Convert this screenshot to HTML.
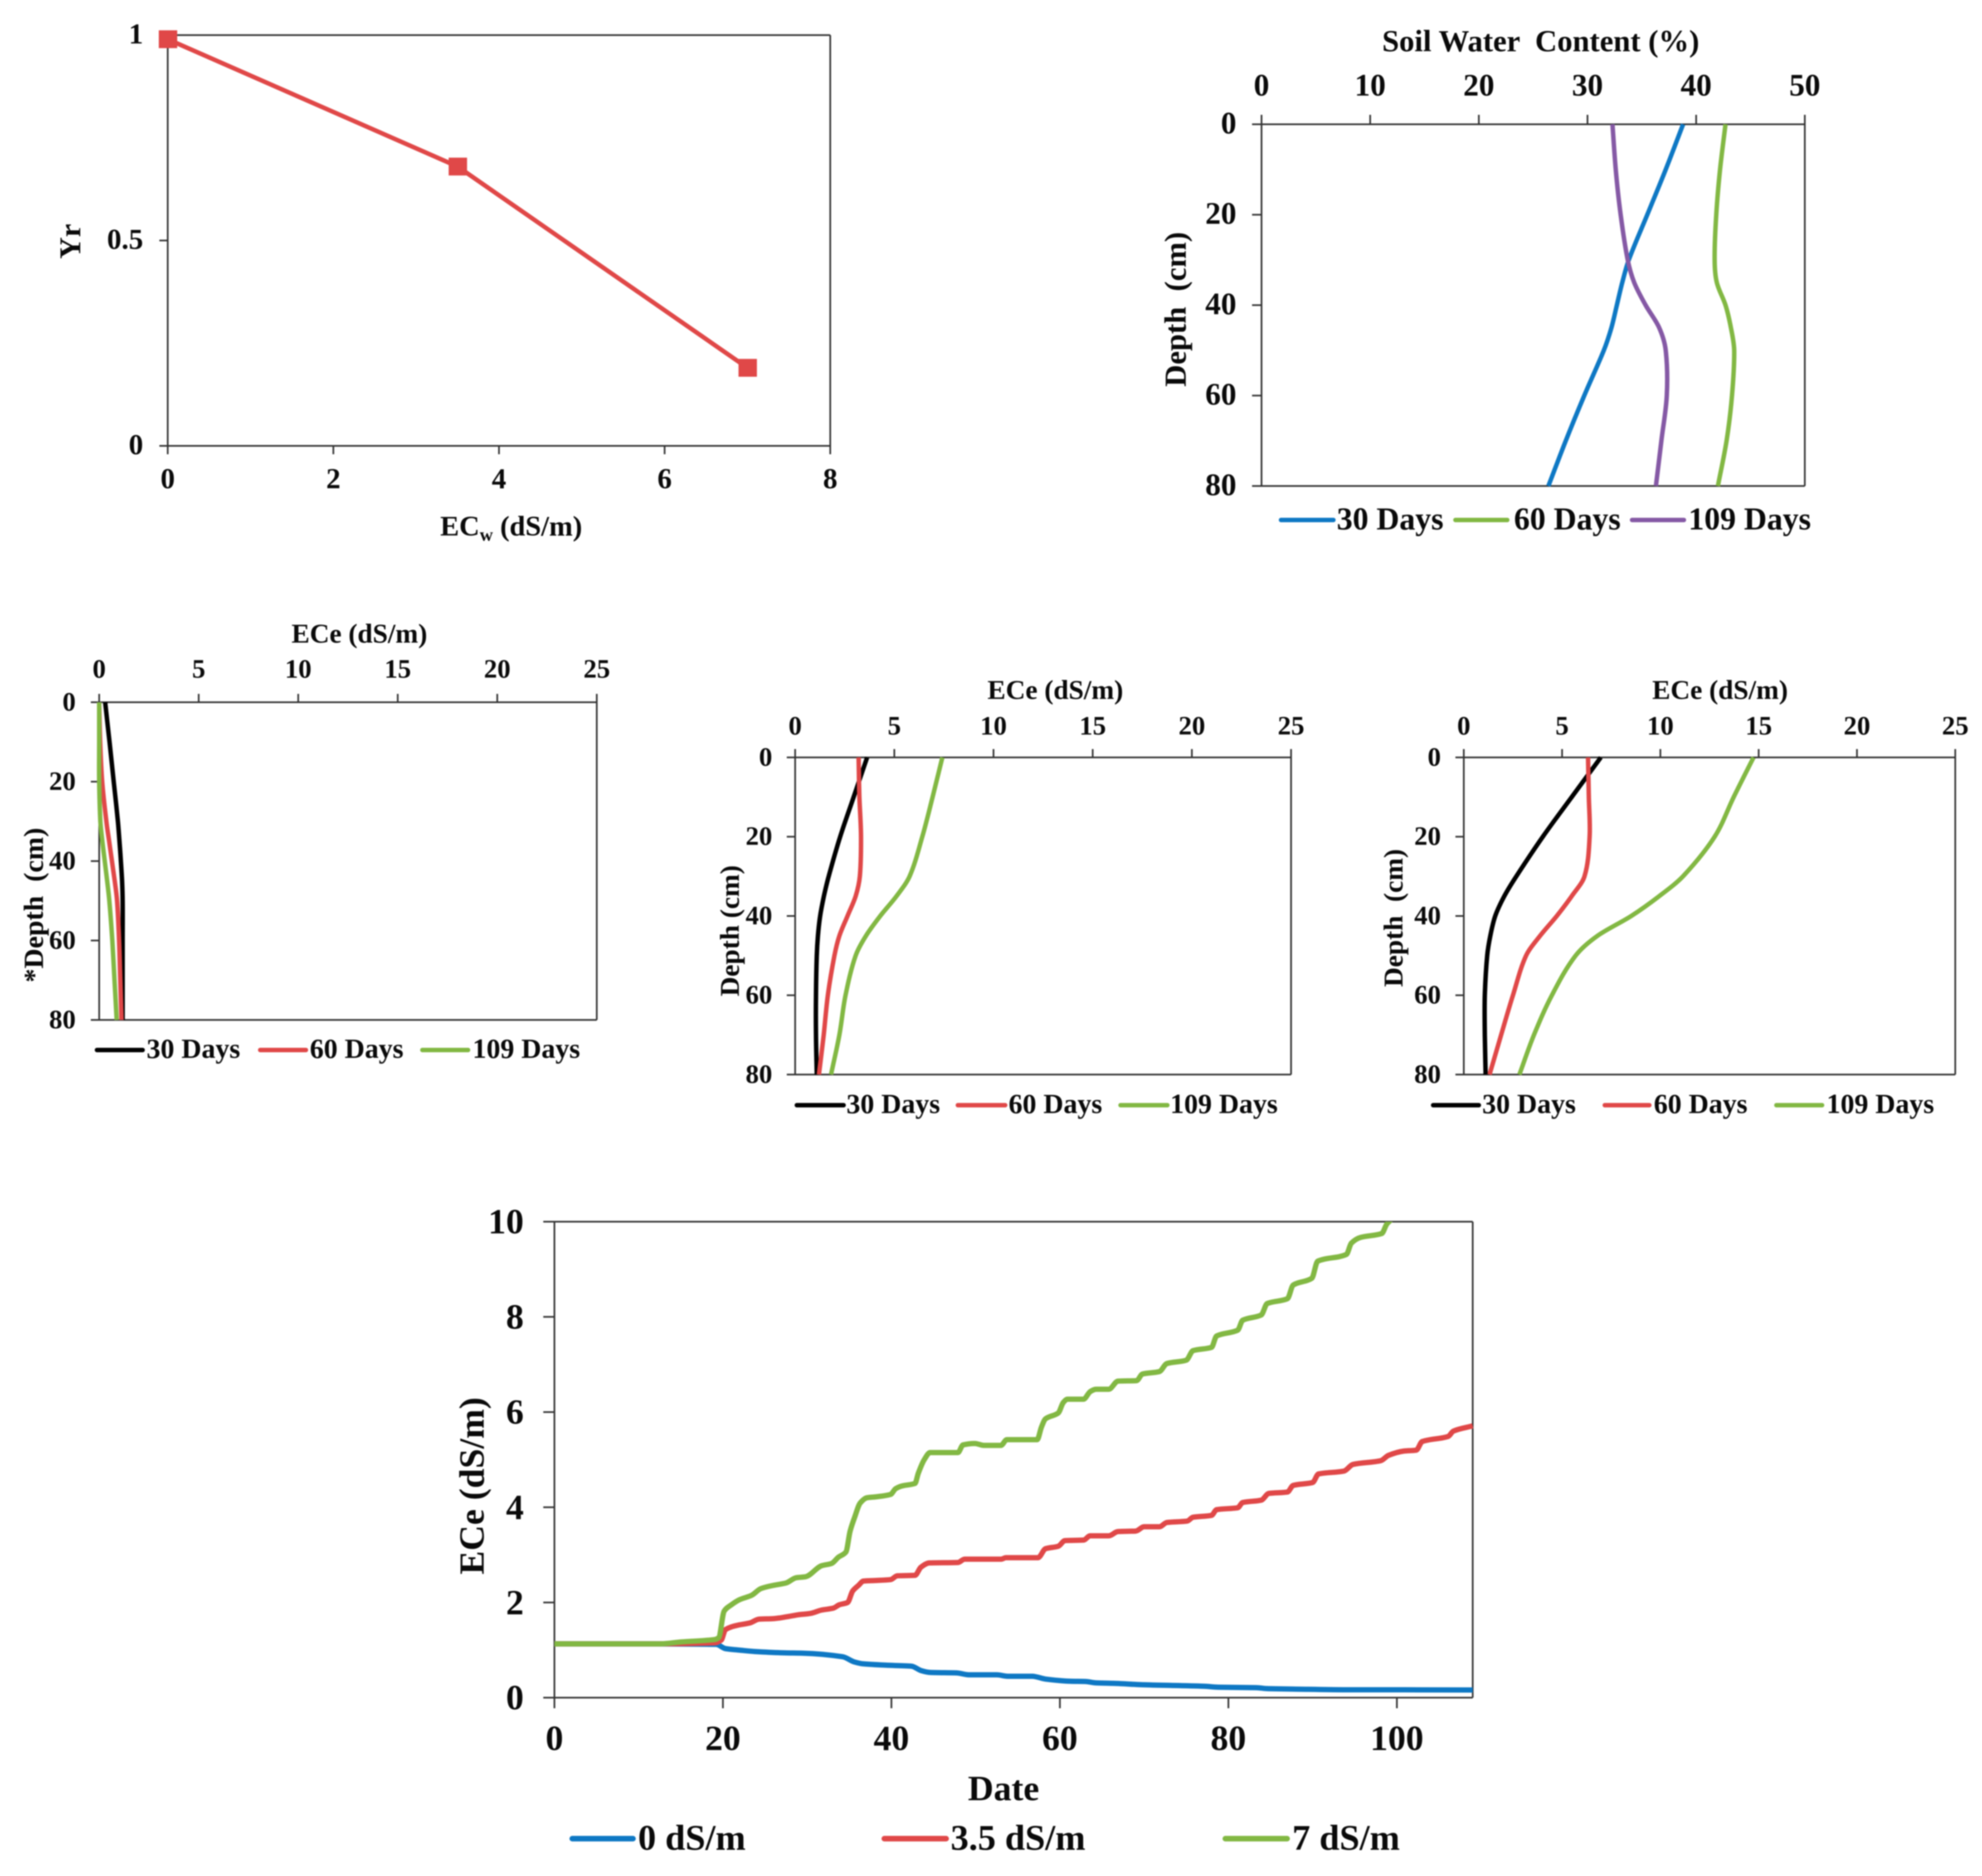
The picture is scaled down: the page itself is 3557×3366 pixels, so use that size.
<!DOCTYPE html>
<html lang="en">
<head>
<meta charset="utf-8">
<title>Yield response, soil water and salinity charts</title>
<style>
html,body{margin:0;padding:0;background:#fff;width:3557px;height:3366px;overflow:hidden}
svg{display:block;filter:blur(1.1px)}
text{font-family:"Liberation Serif",serif;font-weight:bold;fill:#0a0a0a;white-space:pre}
.t49{font-size:49px}.t50{font-size:50px}.t51{font-size:51px}.t54{font-size:54px}.t55{font-size:55px}.t57{font-size:57px}.t64{font-size:64px}.t65{font-size:65px}
.leg{stroke-width:8;stroke-linecap:round;fill:none}
</style>
</head>
<body>
<svg id="fig" xmlns="http://www.w3.org/2000/svg" width="3557" height="3366" viewBox="0 0 3557 3366">
  <rect width="3557" height="3366" fill="#fff"/>

  <g id="c1">
    <text class="t54" text-anchor="middle" transform="translate(127,433) rotate(-90)" y="17">Yr</text>
    <text class="t51" x="790" y="961">EC<tspan font-size="33" dy="9">w</tspan><tspan dy="-9"> (dS/m)</tspan></text>
  </g>

  <g id="c2">
    <text class="t55" text-anchor="middle" x="2765" y="92">Soil Water  Content (%)</text>
    <text class="t55" text-anchor="middle" transform="translate(2110,555) rotate(-90)" y="18">Depth  (cm)</text>
    <line class="leg" x1="2299" x2="2393" y1="933" y2="933" stroke="#0E78C4"/>
    <text class="t57" x="2399" y="950">30 Days</text>
    <line class="leg" x1="2612" x2="2705" y1="933" y2="933" stroke="#82B843"/>
    <text class="t57" x="2717" y="950">60 Days</text>
    <line class="leg" x1="2929" x2="3022" y1="933" y2="933" stroke="#8559A5"/>
    <text class="t57" x="3030" y="950">109 Days</text>
  </g>

  <g id="c3">
    <text class="t49" text-anchor="middle" x="645" y="1153">ECe (dS/m)</text>
    <text class="t50" text-anchor="middle" transform="translate(61,1624) rotate(-90)" y="16">*Depth  (cm)</text>
    <line class="leg" x1="174" x2="256" y1="1884" y2="1884" stroke="#000"/>
    <text class="t50" x="263" y="1898">30 Days</text>
    <line class="leg" x1="467" x2="549" y1="1884" y2="1884" stroke="#E04848"/>
    <text class="t50" x="556" y="1898">60 Days</text>
    <line class="leg" x1="758" x2="840" y1="1884" y2="1884" stroke="#82B843"/>
    <text class="t50" x="848" y="1898">109 Days</text>
  </g>

  <g id="c4">
    <text class="t49" text-anchor="middle" x="1894" y="1254">ECe (dS/m)</text>
    <text class="t49" text-anchor="middle" transform="translate(1310,1670) rotate(-90)" y="16">Depth (cm)</text>
    <line class="leg" x1="1430" x2="1514" y1="1983" y2="1983" stroke="#000"/>
    <text class="t50" x="1519" y="1997">30 Days</text>
    <line class="leg" x1="1719" x2="1804" y1="1983" y2="1983" stroke="#E04848"/>
    <text class="t50" x="1810" y="1997">60 Days</text>
    <line class="leg" x1="2011" x2="2095" y1="1983" y2="1983" stroke="#82B843"/>
    <text class="t50" x="2100" y="1997">109 Days</text>
  </g>

  <g id="c5">
    <text class="t49" text-anchor="middle" x="3087" y="1254">ECe (dS/m)</text>
    <text class="t49" text-anchor="middle" transform="translate(2501,1647) rotate(-90)" y="16">Depth  (cm)</text>
    <line class="leg" x1="2572" x2="2654" y1="1983" y2="1983" stroke="#000"/>
    <text class="t50" x="2660" y="1997">30 Days</text>
    <line class="leg" x1="2880" x2="2960" y1="1983" y2="1983" stroke="#E04848"/>
    <text class="t50" x="2968" y="1997">60 Days</text>
    <line class="leg" x1="3188" x2="3270" y1="1983" y2="1983" stroke="#82B843"/>
    <text class="t50" x="3278" y="1997">109 Days</text>
  </g>

  <g id="c6">
    <defs><clipPath id="timeClip"><rect x="995" y="2192" width="1649" height="854"/></clipPath></defs>
    <text class="t64" text-anchor="middle" transform="translate(848,2666) rotate(-90)" y="20">ECe (dS/m)</text>
    <text class="t64" text-anchor="middle" x="1801" y="3230">Date</text>
    <line class="leg" style="stroke-width:10" x1="1027" x2="1136" y1="3299" y2="3299" stroke="#0E78C4"/>
    <text class="t65" x="1145" y="3319">0 dS/m</text>
    <line class="leg" style="stroke-width:10" x1="1587" x2="1698" y1="3299" y2="3299" stroke="#E04848"/>
    <text class="t65" x="1706" y="3319">3.5 dS/m</text>
    <line class="leg" style="stroke-width:10" x1="2199" x2="2310" y1="3299" y2="3299" stroke="#82B843"/>
    <text class="t65" x="2319" y="3319">7 dS/m</text>
  </g>
</svg>

<script>
/* ---------- chart 1: relative yield ---------- */
const yrSalinity = [0, 3.5, 7];
const yrValues = [0.99, 0.68, 0.19];
const yrXTicks = [0, 2, 4, 6, 8];
const yrYTicks = [0, 0.5, 1];

/* ---------- shared depth axis ---------- */
const depthLevels = [0, 10, 20, 30, 35, 40, 45, 50, 60, 70, 80];
const depthTicks = [0, 20, 40, 60, 80];

/* ---------- chart 2: soil water content ---------- */
const swcTicks = [0, 10, 20, 30, 40, 50];
const swc30 = [38.8, 37.2, 35.5, 33.8, 33.2, 32.7, 32.2, 31.5, 29.7, 28.0, 26.4];
const swc60 = [42.7, 42.2, 41.85, 41.7, 41.9, 42.7, 43.2, 43.5, 43.3, 42.8, 42.0];
const swc109 = [32.3, 32.6, 33.05, 33.7, 34.3, 35.35, 36.6, 37.2, 37.3, 36.8, 36.3];

/* ---------- charts 3-5: ECe profiles ---------- */
const eceTicks = [0, 5, 10, 15, 20, 25];
const ece0Day30 = [0.3, 0.52, 0.73, 0.94, 1.02, 1.09, 1.15, 1.18, 1.18, 1.18, 1.18];
const ece0Day60 = [0, 0.05, 0.15, 0.36, 0.5, 0.64, 0.78, 0.9, 1.0, 1.06, 1.12];
const ece0Day109 = [0, 0, 0, 0.06, 0.16, 0.28, 0.4, 0.51, 0.66, 0.77, 0.88];
const ece35Day30 = [3.63, 2.95, 2.27, 1.69, 1.45, 1.26, 1.15, 1.09, 1.05, 1.05, 1.09];
const ece35Day60 = [3.2, 3.24, 3.32, 3.26, 3.05, 2.64, 2.23, 1.98, 1.65, 1.44, 1.2];
const ece35Day109 = [7.42, 6.93, 6.41, 5.77, 5.11, 4.29, 3.57, 3.05, 2.54, 2.23, 1.81];
const ece7Day30 = [6.97, 5.49, 4.02, 2.67, 2.06, 1.6, 1.35, 1.19, 1.07, 1.07, 1.11];
const ece7Day60 = [6.32, 6.36, 6.4, 6.14, 5.49, 4.73, 3.88, 3.17, 2.5, 1.9, 1.31];
const ece7Day109 = [14.74, 13.73, 12.76, 11.15, 9.94, 8.52, 6.8, 5.69, 4.48, 3.57, 2.83];

/* ---------- chart 6: ECe over time ---------- */
const timeXTicks = [0, 20, 40, 60, 80, 100];
const timeYTicks = [0, 2, 4, 6, 8, 10];
const blueDays = [0, 12, 19.2, 20.3, 21.9, 23.8, 27.6, 29.5, 34.2, 35.6, 36.7, 39.7, 42.4, 43.5, 44.6, 47.7, 49.2, 52.5, 53.8, 56.7, 58.3, 61.2, 63, 64.3, 66.5, 70, 77.1, 78.8, 83.3, 84.6, 87.7, 94.3, 101, 109];
const blueValues = [1.13, 1.13, 1.12, 1.03, 1.0, 0.97, 0.94, 0.935, 0.86, 0.75, 0.71, 0.68, 0.66, 0.57, 0.53, 0.52, 0.48, 0.48, 0.45, 0.45, 0.39, 0.345, 0.34, 0.31, 0.30, 0.27, 0.24, 0.22, 0.21, 0.19, 0.18, 0.165, 0.165, 0.16];
const redDays = [0, 12, 19, 19.8, 20.3, 21.7, 23.2, 24.3, 26, 27.6, 28.9, 30.4, 31.7, 33.1, 33.8, 34.8, 35.4, 36.1, 36.7, 38, 39.9, 40.7, 42.8, 43.5, 44.5, 47.9, 48.7, 53, 53.6, 57.4, 58.3, 59.8, 60.6, 62.8, 63.6, 65.8, 66.9, 69, 70, 71.8, 72.7, 75.1, 75.8, 78, 78.6, 81.1, 81.7, 83.9, 84.8, 87, 87.7, 90, 90.7, 93.7, 94.8, 98.1, 99, 100.8, 102.3, 103, 106.1, 106.7, 109];
const redValues = [1.13, 1.13, 1.15, 1.21, 1.43, 1.52, 1.57, 1.65, 1.66, 1.7, 1.74, 1.77, 1.84, 1.88, 1.95, 2.0, 2.24, 2.36, 2.45, 2.46, 2.48, 2.56, 2.57, 2.74, 2.83, 2.84, 2.91, 2.91, 2.94, 2.94, 3.13, 3.18, 3.3, 3.31, 3.4, 3.4, 3.49, 3.5, 3.59, 3.59, 3.68, 3.71, 3.79, 3.83, 3.95, 3.99, 4.1, 4.15, 4.29, 4.32, 4.46, 4.52, 4.7, 4.76, 4.9, 4.98, 5.09, 5.18, 5.2, 5.38, 5.49, 5.6, 5.71];
const greenDays = [0, 12.5, 15, 19, 19.5, 20.15, 21, 22, 23.4, 24.5, 26, 27.5, 28.7, 29.8, 31.7, 32.9, 33.7, 34.6, 35.1, 35.6, 36.3, 37.1, 38.2, 39.9, 40.5, 41.3, 42.8, 43.2, 43.9, 44.6, 47.9, 48.5, 49.9, 51, 53, 53.7, 57.3, 57.8, 58.3, 59.8, 60.4, 60.9, 62.8, 63.6, 64.3, 65.8, 66.9, 69.1, 69.8, 71.8, 72.7, 75, 75.8, 78, 78.6, 81.1, 81.7, 83.9, 84.6, 87, 87.7, 89.9, 90.6, 94, 94.6, 95.7, 98.2, 98.8, 99.3, 100];
const greenValues = [1.13, 1.13, 1.17, 1.22, 1.26, 1.82, 1.95, 2.06, 2.15, 2.29, 2.36, 2.41, 2.52, 2.54, 2.77, 2.82, 2.95, 3.06, 3.5, 3.77, 4.09, 4.2, 4.22, 4.27, 4.39, 4.45, 4.5, 4.72, 5.0, 5.15, 5.15, 5.31, 5.34, 5.30, 5.30, 5.42, 5.42, 5.68, 5.86, 5.98, 6.2, 6.27, 6.27, 6.43, 6.48, 6.48, 6.65, 6.66, 6.8, 6.85, 7.02, 7.09, 7.29, 7.36, 7.6, 7.72, 7.93, 8.04, 8.28, 8.38, 8.67, 8.81, 9.17, 9.31, 9.55, 9.67, 9.75, 9.95, 10.04, 10.2];

const SVGNS = 'http://www.w3.org/2000/svg';

function scale(d0, d1, p0, p1) {
  return function (v) { return p0 + (v - d0) * (p1 - p0) / (d1 - d0); };
}

function make(tag, parent, name, attrs) {
  const el = document.createElementNS(SVGNS, tag);
  
  
  Object.keys(attrs).forEach(function (k) { el.setAttribute(k, attrs[k]); });
  parent.appendChild(el);
  return el;
}

function tickLabel(parent, name, x, y, size, anchor, str) {
  const el = make('text', parent, name, { x: x, y: y + size * 0.33, 'text-anchor': anchor, 'font-size': size });
  el.textContent = str;
}

/* curve through points with x a function of increasing y (depth axis) */
function depthCurve(pts) {
  const n = pts.length;
  const slope = pts.map(function (p, i) {
    const a = pts[Math.max(i - 1, 0)], b = pts[Math.min(i + 1, n - 1)];
    return (b[0] - a[0]) / (b[1] - a[1]);
  });
  let d = 'M' + pts[0][0].toFixed(1) + ' ' + pts[0][1].toFixed(1);
  for (let i = 0; i < n - 1; i++) {
    const h = (pts[i + 1][1] - pts[i][1]) / 3;
    d += 'C' + (pts[i][0] + slope[i] * h).toFixed(1) + ' ' + (pts[i][1] + h).toFixed(1) + ' ' +
      (pts[i + 1][0] - slope[i + 1] * h).toFixed(1) + ' ' + (pts[i + 1][1] - h).toFixed(1) + ' ' +
      pts[i + 1][0].toFixed(1) + ' ' + pts[i + 1][1].toFixed(1);
  }
  return d;
}

/* monotone curve through points with y a function of increasing x (time axis) */
function timeCurve(pts) {
  const n = pts.length;
  const sec = [];
  for (let i = 0; i < n - 1; i++) { sec.push((pts[i + 1][1] - pts[i][1]) / (pts[i + 1][0] - pts[i][0])); }
  const m = pts.map(function (p, i) {
    if (i === 0) { return sec[0]; }
    if (i === n - 1) { return sec[n - 2]; }
    if (sec[i - 1] * sec[i] <= 0) { return 0; }
    return 2 * sec[i - 1] * sec[i] / (sec[i - 1] + sec[i]);
  });
  let d = 'M' + pts[0][0].toFixed(1) + ' ' + pts[0][1].toFixed(1);
  for (let i = 0; i < n - 1; i++) {
    const h = (pts[i + 1][0] - pts[i][0]) / 3;
    d += 'C' + (pts[i][0] + h).toFixed(1) + ' ' + (pts[i][1] + m[i] * h).toFixed(1) + ' ' +
      (pts[i + 1][0] - h).toFixed(1) + ' ' + (pts[i + 1][1] - m[i + 1] * h).toFixed(1) + ' ' +
      pts[i + 1][0].toFixed(1) + ' ' + pts[i + 1][1].toFixed(1);
  }
  return d;
}

function linePath(pts) {
  return pts.map(function (p, i) { return (i ? 'L' : 'M') + p[0].toFixed(1) + ' ' + p[1].toFixed(1); }).join('');
}

function hLine(parent, name, x1, x2, y) {
  make('line', parent, name, { x1: x1, x2: x2, y1: y, y2: y, stroke: '#333', 'stroke-width': 3 });
}
function vLine(parent, name, x, y1, y2) {
  make('line', parent, name, { x1: x, x2: x, y1: y1, y2: y2, stroke: '#333', 'stroke-width': 3 });
}

/* depth-profile chart: x axis on top, depth increasing downward */
function profileChart(id, frame, maxX, xTicks, series) {
  const g = document.getElementById(id);
  const x = scale(0, maxX, frame.left, frame.right);
  const y = scale(0, 80, frame.top, frame.bottom);
  hLine(g, 'top-axis', frame.left - frame.tick, frame.right, frame.top);
  hLine(g, 'bottom-axis', frame.left - frame.tick, frame.right, frame.bottom);
  vLine(g, 'left-axis', frame.left, frame.top - frame.tick, frame.bottom);
  vLine(g, 'right-axis', frame.right, frame.top - frame.tick, frame.bottom);
  xTicks.forEach(function (t) {
    vLine(g, 'x-tick-' + t, x(t), frame.top - frame.tick, frame.top);
    tickLabel(g, 'x-tick-label-' + t, x(t), frame.xLabelY, frame.font, 'middle', String(t));
  });
  depthTicks.forEach(function (t) {
    hLine(g, 'y-tick-' + t, frame.left - frame.tick, frame.left, y(t));
    tickLabel(g, 'y-tick-label-' + t, frame.yLabelX, y(t) - frame.labelShift, frame.font, 'end', String(t));
  });
  series.forEach(function (s) {
    const pts = s.values.map(function (v, i) { return [x(v), y(depthLevels[i])]; });
    make('path', g, s.name, { d: depthCurve(pts), fill: 'none', stroke: s.color, 'stroke-width': 8 });
  });
}

/* chart 1 */
(function () {
  const g = document.getElementById('c1');
  const L = 301, R = 1490, T = 63, B = 800;
  const x = scale(0, 8, L, R);
  const y = scale(0, 1, B, T);
  hLine(g, 'top-border', L, R, T);
  vLine(g, 'right-border', R, T, B);
  vLine(g, 'y-axis', L, T, B);
  hLine(g, 'x-axis', L - 15, R, B);
  yrXTicks.forEach(function (t) {
    vLine(g, 'x-tick-' + t, x(t), B, B + 15);
    tickLabel(g, 'x-tick-label-' + t, x(t), 859, 52, 'middle', String(t));
  });
  yrYTicks.forEach(function (t) {
    hLine(g, 'y-tick-' + t, L - 15, L, y(t));
    tickLabel(g, 'y-tick-label-' + t, 257, y(t) - 2, 52, 'end', String(t));
  });
  const pts = yrValues.map(function (v, i) { return [x(yrSalinity[i]), y(v)]; });
  make('path', g, 'yield-line', { d: linePath(pts), fill: 'none', stroke: '#E04848', 'stroke-width': 8 });
  pts.forEach(function (p, i) {
    const m = make('rect', g, 'yield-point', { x: p[0] - 16, y: p[1] - 16, width: 33, height: 32, fill: '#E04848' });
    m.setAttribute('data-index', i);
  });
})();

/* chart 2 */
profileChart('c2',
  { left: 2264, right: 3239, top: 223, bottom: 872, tick: 17, xLabelY: 153, yLabelX: 2219, font: 56, labelShift: 2 },
  50, swcTicks,
  [
    { name: 'swc-30-days-line', color: '#0E78C4', values: swc30 },
    { name: 'swc-60-days-line', color: '#82B843', values: swc60 },
    { name: 'swc-109-days-line', color: '#8559A5', values: swc109 }
  ]);

/* chart 3 */
profileChart('c3',
  { left: 178, right: 1071, top: 1260, bottom: 1830, tick: 15, xLabelY: 1200, yLabelX: 136, font: 48, labelShift: 1 },
  25, eceTicks,
  [
    { name: 'ece-30-days-line', color: '#000', values: ece0Day30 },
    { name: 'ece-60-days-line', color: '#E04848', values: ece0Day60 },
    { name: 'ece-109-days-line', color: '#82B843', values: ece0Day109 }
  ]);

/* chart 4 */
profileChart('c4',
  { left: 1427, right: 2317, top: 1359, bottom: 1928, tick: 15, xLabelY: 1302, yLabelX: 1386, font: 48, labelShift: 1 },
  25, eceTicks,
  [
    { name: 'ece-30-days-line', color: '#000', values: ece35Day30 },
    { name: 'ece-60-days-line', color: '#E04848', values: ece35Day60 },
    { name: 'ece-109-days-line', color: '#82B843', values: ece35Day109 }
  ]);

/* chart 5 */
profileChart('c5',
  { left: 2627, right: 3509, top: 1359, bottom: 1928, tick: 15, xLabelY: 1302, yLabelX: 2586, font: 48, labelShift: 1 },
  25, eceTicks,
  [
    { name: 'ece-30-days-line', color: '#000', values: ece7Day30 },
    { name: 'ece-60-days-line', color: '#E04848', values: ece7Day60 },
    { name: 'ece-109-days-line', color: '#82B843', values: ece7Day109 }
  ]);

/* chart 6 */
(function () {
  const g = document.getElementById('c6');
  const L = 995, R = 2643, T = 2192, B = 3046;
  const x = scale(0, 109, L, R);
  const y = scale(0, 10, B, T);
  hLine(g, 'top-border', L, R, T);
  vLine(g, 'right-border', R, T, B);
  vLine(g, 'y-axis', L, T, B);
  hLine(g, 'x-axis', L - 20, R, B);
  timeXTicks.forEach(function (t) {
    vLine(g, 'x-tick-' + t, x(t), B, B + 19);
    tickLabel(g, 'x-tick-label-' + t, x(t), 3119, 64, 'middle', String(t));
  });
  timeYTicks.forEach(function (t) {
    hLine(g, 'y-tick-' + t, L - 20, L, y(t));
    tickLabel(g, 'y-tick-label-' + t, 940, y(t), 64, 'end', String(t));
  });
  const series = [
    { name: 'series-0-dsm', color: '#0E78C4', days: blueDays, vals: blueValues },
    { name: 'series-3-5-dsm', color: '#E04848', days: redDays, vals: redValues },
    { name: 'series-7-dsm', color: '#82B843', days: greenDays, vals: greenValues }
  ];
  series.forEach(function (s) {
    const pts = s.vals.map(function (v, i) { return [x(s.days[i]), y(v)]; });
    make('path', g, s.name, { d: timeCurve(pts), fill: 'none', stroke: s.color, 'stroke-width': 9.5, 'stroke-linejoin': 'round', 'clip-path': 'url(#timeClip)' });
  });
})();
</script>
</body>
</html>
